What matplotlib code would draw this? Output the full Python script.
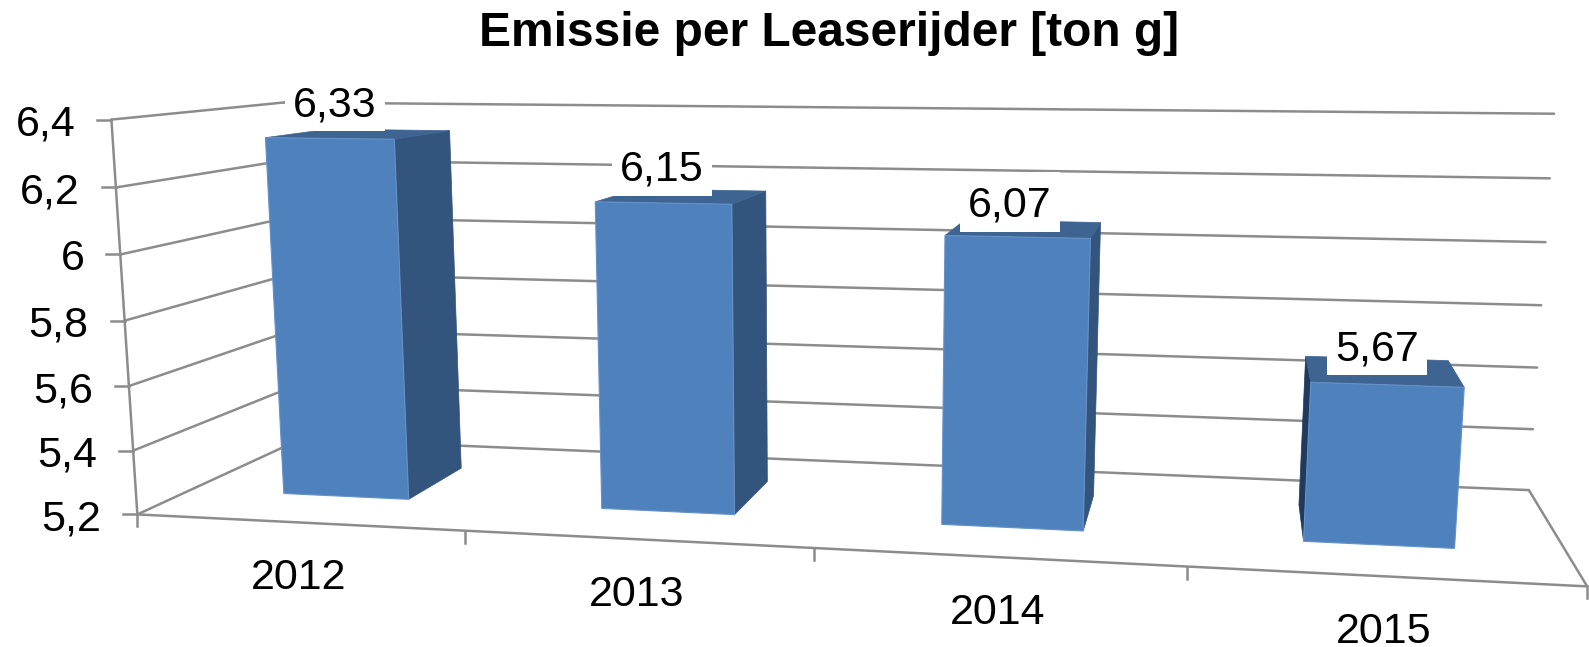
import numpy as np
import matplotlib
matplotlib.use("Agg")
import matplotlib.pyplot as plt
from matplotlib.patches import Rectangle

plt.rcParams['font.family'] = ['Liberation Sans', 'DejaVu Sans']

years = ['2012', '2013', '2014', '2015']
values = [6.33, 6.15, 6.07, 5.67]
value_labels = ['6,33', '6,15', '6,07', '5,67']
y_ticks = [5.2, 5.4, 5.6, 5.8, 6.0, 6.2, 6.4]
y_tick_labels = ['5,2', '5,4', '5,6', '5,8', '6', '6,2', '6,4']
y_min, y_max = 5.2, 6.4

# where the labels sit in the picture (centre of the white box)
label_pos = [(335, 103), (662, 168), (1010, 204), (1377, 347)]

# bar shape inside the 3d box
bar_centers = [0.5, 1.5, 2.505, 3.508]
bar_width = 0.4
depth_front, depth_back = 0.3, 0.7

# camera: fitted from the corners of the chart box, (cat, value, depth) -> pixel
cam_world = [(0, 6.4, 0), (0, 5.2, 0), (0, 6.4, 1), (0, 5.2, 1), (4, 6.4, 1), (4, 5.2, 1),
             (4, 5.2, 0), (1, 5.2, 0), (2, 5.2, 0), (3, 5.2, 0), (4, 5.6, 1), (0, 6.0, 0)]
cam_pix = [(110, 120), (138, 515), (285, 102), (300, 439), (1554, 114), (1529, 490),
           (1588, 586), (465, 531), (814, 548), (1186, 566), (1537, 368), (121, 254)]


def fit_camera():
    rows = []
    for (c, v, d), (px, py) in zip(cam_world, cam_pix):
        h = [c, (v - y_min) / (y_max - y_min), d, 1]
        u, w = px / 1000, py / 1000
        rows.append(h + [0, 0, 0, 0] + [-u * k for k in h])
        rows.append([0, 0, 0, 0] + h + [-w * k for k in h])
    return np.linalg.svd(np.array(rows))[2][-1].reshape(3, 4)


P = fit_camera()


def proj(c, v, d):
    q = P @ np.array([c, (v - y_min) / (y_max - y_min), d, 1])
    return q[0] / q[2] * 1000, q[1] / q[2] * 1000


def seg(ax, a, b):
    xa, ya = proj(*a)
    xb, yb = proj(*b)
    ax.plot([xa, xb], [ya, yb], color=grid_col, lw=line_w, zorder=1, solid_capstyle='round')


grid_col = '#8c8c8c'
line_w = 1.8
front_col = '#4f81bd'
front_edge = '#6592c9'
top_col = '#3e6492'
right_col = '#33547c'
left_col = '#1f3a5c'
label_size = 31

fig = plt.figure(figsize=(15.89, 6.47), dpi=100)
ax = fig.add_axes([0, 0, 1, 1])
ax.set_xlim(0, 1589)
ax.set_ylim(647, 0)
ax.axis('off')

# walls and floor
for v in y_ticks:
    seg(ax, (0, v, 0), (0, v, 1))
    seg(ax, (0, v, 1), (4, v, 1))
    x, y = proj(0, v, 0)
    ax.plot([x - 14, x], [y, y], color=grid_col, lw=line_w, zorder=1)
seg(ax, (0, y_min, 0), (0, y_max, 0))
seg(ax, (0, y_min, 0), (4, y_min, 0))
seg(ax, (4, y_min, 0), (4, y_min, 1))
for i in range(5):
    x, y = proj(i, y_min, 0)
    ax.plot([x, x], [y, y + 12], color=grid_col, lw=line_w, zorder=1)

for v, lab in zip(y_ticks, y_tick_labels):
    x, y = proj(0, v, 0)
    ax.text(x - 36, y + 16, lab, fontsize=label_size, ha='right', va='baseline', color='black')

for i, lab in enumerate(years):
    x, y = proj(i + 0.5, y_min, 0)
    ax.text(x, y + 67, lab, fontsize=label_size, ha='center', va='baseline', color='black')

# bars
for center, val in zip(bar_centers, values):
    c0 = center - bar_width / 2
    c1 = center + bar_width / 2
    front = [proj(c0, val, depth_front), proj(c1, val, depth_front),
             proj(c1, y_min, depth_front), proj(c0, y_min, depth_front)]
    top = [proj(c0, val, depth_front), proj(c1, val, depth_front),
           proj(c1, val, depth_back), proj(c0, val, depth_back)]
    right = [proj(c1, val, depth_front), proj(c1, val, depth_back),
             proj(c1, y_min, depth_back), proj(c1, y_min, depth_front)]
    left = [proj(c0, val, depth_front), proj(c0, val, depth_back),
            proj(c0, y_min, depth_back), proj(c0, y_min, depth_front)]
    if right[1][0] > right[0][0]:
        ax.fill(*zip(*right), color=right_col, lw=0.5, zorder=2)
    if left[1][0] < left[0][0]:
        ax.fill(*zip(*left), color=left_col, lw=0.5, zorder=2)
    ax.fill(*zip(*top), color=top_col, lw=0.5, zorder=2)
    ax.fill(*zip(*front), facecolor=front_col, edgecolor=front_edge, lw=0.8, zorder=3)

# value labels on white boxes
for (x, y), lab in zip(label_pos, value_labels):
    ax.add_patch(Rectangle((x - 50, y - 32), 100, 60, facecolor='white', edgecolor='none', zorder=4))
    ax.text(x, y + 13, lab, fontsize=label_size, ha='center', va='baseline', color='black', zorder=5)

ax.text(829, 46, 'Emissie per Leaserijder [ton g]', fontsize=34.5, fontweight='bold',
        ha='center', va='baseline', color='black')

fig.savefig('out.png', dpi=100)
